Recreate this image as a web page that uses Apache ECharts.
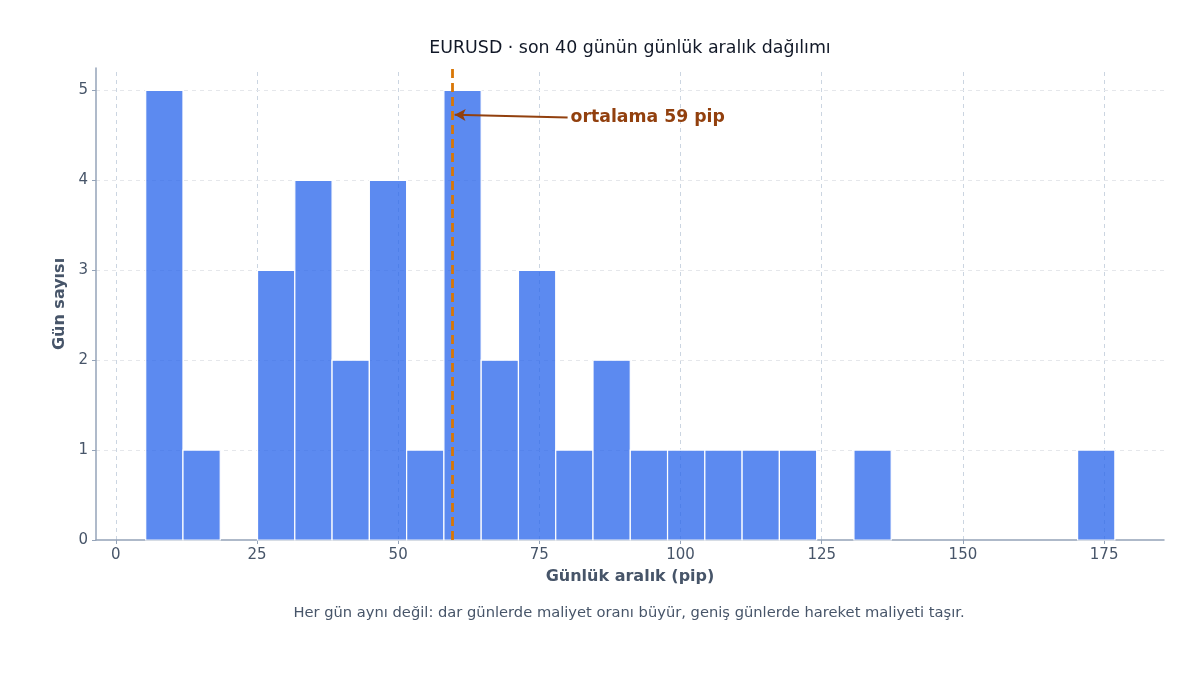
<!DOCTYPE html>
<html>
<head>
<meta charset="utf-8">
<script src="https://cdn.jsdelivr.net/npm/echarts@6/dist/echarts.min.js"></script>
<style>
  html, body { margin: 0; padding: 0; background: #fff; }
  #chart { width: 1200px; height: 675px; }
</style>
</head>
<body>
<div id="chart"></div>
<script>
// histogram bins (pip) and day counts
var binEdges = [5.3, 11.9, 18.5, 25.1, 31.7, 38.3, 44.9, 51.5, 58.1, 64.7, 71.3, 77.9, 84.5,
  91.1, 97.7, 104.3, 110.9, 117.5, 124.1, 130.7, 137.3, 143.9, 150.5, 157.1, 163.7, 170.3, 176.9];
var dayCounts = [5, 1, 0, 3, 4, 2, 4, 1, 5, 2, 3, 1, 2, 1, 1, 1, 1, 1, 0, 1, 0, 0, 0, 0, 0, 1];
var xTicks = [0, 25, 50, 75, 100, 125, 150, 175];
var yTicks = [0, 1, 2, 3, 4, 5];
var meanPip = 59.5;
var meanLabel = 'ortalama 59 pip';
var arrowFrom = [80.0, 4.70];
var arrowTo = [60.0, 4.73];

var histData = [];
for (var i = 0; i < dayCounts.length; i++) {
  if (dayCounts[i] > 0) histData.push([binEdges[i], binEdges[i + 1], dayCounts[i]]);
}

var font = 'DejaVu Sans';
var myChart = echarts.init(document.getElementById('chart'));

var option = {
  animation: false,
  textStyle: { fontFamily: font },
  title: [{
    text: 'EURUSD · son 40 günün günlük aralık dağılımı',
    left: 625, top: 35, textAlign: 'center',
    textStyle: { fontFamily: font, fontSize: 17.4, fontWeight: 'normal', color: '#111827' }
  }, {
    text: 'Her gün aynı değil: dar günlerde maliyet oranı büyür, geniş günlerde hareket maliyeti taşır.',
    left: 624, top: 601, textAlign: 'center',
    textStyle: { fontFamily: font, fontSize: 14.7, fontWeight: 'normal', color: '#475569' }
  }],
  grid: { left: 96, right: 36, top: 68, bottom: 135 },
  xAxis: {
    type: 'value', min: -3.5, max: 185.6,
    name: 'Günlük aralık (pip)', nameLocation: 'middle', nameGap: 29,
    nameTextStyle: { fontFamily: font, fontSize: 16, fontWeight: 'bold', color: '#475569' },
    axisLine: { show: true, onZero: false, lineStyle: { color: '#94a3b8', width: 1.5 } },
    axisTick: { show: true, customValues: xTicks, length: 4, lineStyle: { color: '#94a3b8' } },
    axisLabel: { customValues: xTicks, fontSize: 15, color: '#475569', margin: 8 },
    splitLine: { show: false }
  },
  yAxis: {
    type: 'value', min: 0, max: 5.25,
    name: 'Gün sayısı', nameLocation: 'middle', nameGap: 26, nameRotate: 90,
    nameTextStyle: { fontFamily: font, fontSize: 16, fontWeight: 'bold', color: '#475569' },
    axisLine: { show: true, onZero: false, lineStyle: { color: '#94a3b8', width: 1.5 } },
    axisTick: { show: true, customValues: yTicks, length: 4, lineStyle: { color: '#94a3b8' } },
    axisLabel: { customValues: yTicks, fontSize: 15, color: '#475569', margin: 8 },
    splitLine: { show: false }
  },
  series: [{
    // grid lines
    type: 'line', data: [], silent: true, z: 1,
    markLine: {
      silent: true, symbol: 'none', label: { show: false }, animation: false, z: 0,
      data: xTicks.map(function (v) {
        return { xAxis: v, lineStyle: { color: '#cbd5e1', type: [4, 4], width: 1 } };
      }).concat(yTicks.slice(1).map(function (v) {
        return { yAxis: v, lineStyle: { color: '#e5e7eb', type: [4, 4], width: 1 } };
      }))
    }
  }, {
    type: 'custom', z: 2,
    encode: { x: [0, 1], y: 2 },
    data: histData,
    renderItem: function (params, api) {
      var p0 = api.coord([api.value(0), api.value(2)]);
      var p1 = api.coord([api.value(1), 0]);
      return {
        type: 'rect',
        shape: { x: p0[0], y: p0[1], width: p1[0] - p0[0], height: p1[1] - p0[1] },
        style: { fill: 'rgba(37,99,235,0.75)', stroke: '#ffffff', lineWidth: 1.2 }
      };
    }
  }, {
    // mean line and annotation
    type: 'line', data: [], z: 3,
    markLine: {
      silent: true, animation: false, label: { show: false }, z: 6,
      data: [
        [{ coord: [meanPip, 0], symbol: 'none', lineStyle: { color: '#d97706', type: [9, 5], width: 2.8 } },
         { coord: [meanPip, 5.25], symbol: 'none' }],
        [{ coord: arrowFrom, symbol: 'none', lineStyle: { color: '#92400e', type: 'solid', width: 2 } },
         { coord: arrowTo, symbol: 'arrow', symbolSize: [9, 11] }]
      ]
    }
  }, {
    type: 'scatter', z: 7, symbolSize: 0, silent: true,
    itemStyle: { opacity: 1 },
    data: [[arrowFrom[0], arrowFrom[1]]],
    label: {
      show: true, position: 'right', distance: 3, formatter: meanLabel,
      fontFamily: font, fontSize: 17.3, fontWeight: 'bold', color: '#92400e', opacity: 1
    }
  }]
};
myChart.setOption(option);
</script>
</body>
</html>
